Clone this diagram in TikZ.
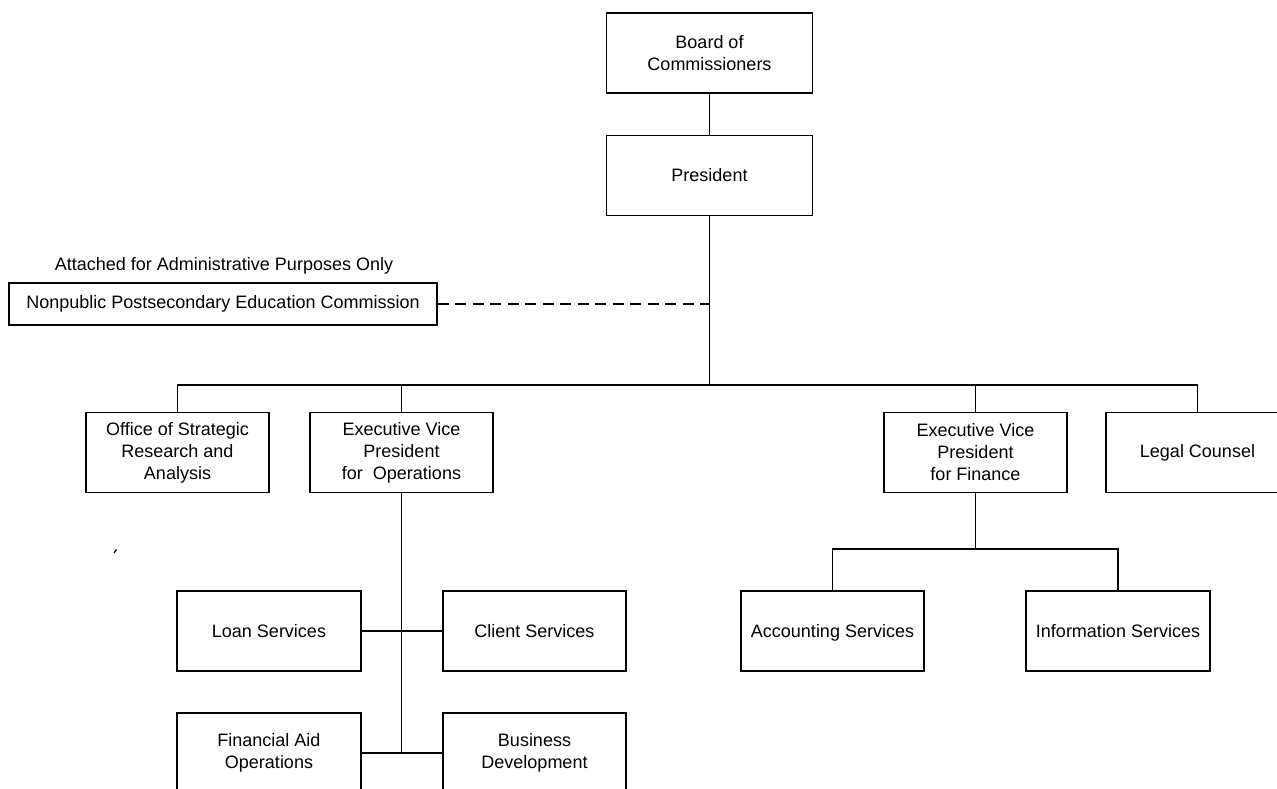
\documentclass[tikz,border=0pt]{standalone}
\usepackage{fontspec}
\setmainfont{Liberation Sans}
\begin{document}
\begin{tikzpicture}[x=1pt,y=-1pt,
  ln/.style={line width=1.5pt,draw=black},
  box/.style={ln,rectangle,inner sep=0pt,align=center,
    font=\fontsize{18}{22}\selectfont,minimum width=183pt,minimum height=80pt},
  wbox/.style={box,minimum width=206pt},
  lbl/.style={inner sep=0pt,font=\fontsize{18}{22}\selectfont},
  dashline/.style={ln,dash pattern=on 11pt off 6.5pt}]
\useasboundingbox (0,0) rectangle (1277,789);
\clip (0,0) rectangle (1277,789);
\fill[white] (0,0) rectangle (1277,789);
% top
\node[wbox] (board) at (709.5,53) {Board of\\Commissioners};
\node[wbox] (pres) at (709.5,175.5) {President};
% npec
\node[box,minimum width=428pt,minimum height=42pt] (npec) at (223,304) {Nonpublic Postsecondary Education Commission};
\node[lbl] (att) at (224,266) {Attached for Administrative Purposes Only};
% second level
\node[box] (osra) at (177.5,452.5) {Office of Strategic\\Research and\\Analysis};
\node[box] (evpo) at (401.5,452.5) {Executive Vice\\President\\for~ Operations};
\node[box] (evpf) at (975.5,452.5) {Executive Vice\\President\\for Finance};
\node[box] (legal) at (1197.5,452.5) {Legal Counsel};
% operations units
\node[box,minimum width=184pt] (loan) at (269,631) {Loan Services};
\node[box] (client) at (534.5,631) {Client Services};
\node[box,minimum width=184pt] (fin) at (269,753) {Financial Aid\\Operations};
\node[box] (biz) at (534.5,753) {Business\\Development};
% finance units
\node[box] (acct) at (832.5,631) {\raisebox{0pt}[13pt][0pt]{Accounting Services}};
\node[box,minimum width=184pt] (info) at (1118,631) {\raisebox{0pt}[13pt][0pt]{Information Services}};
% coordinates
\coordinate (bus) at (709.5,385);
\coordinate (dj) at (709.5,304);
\coordinate (opsend) at (401.5,753);
\coordinate (finbus) at (975.5,549);
% connectors
\draw[ln] (board) -- (pres);
\draw[ln] (pres) -- (bus);
\draw[dashline] (npec.east) -- (dj);
\draw[ln] (osra.north) |- (bus);
\draw[ln] (legal.north) |- (bus);
\draw[ln] (evpo.north) -- ++(0,-27.5);
\draw[ln] (evpf.north) -- ++(0,-27.5);
\draw[ln] (evpo.south) -- (opsend);
\draw[ln] (loan.east) -- (client.west);
\draw[ln] (fin.east) -- (biz.west);
\draw[ln] (evpf.south) -- (finbus);
\draw[ln] (acct.north) |- (finbus);
\draw[ln] (info.north) |- (finbus);
% stray mark
\draw[line width=1.2pt] (114,553) -- (116.5,549.5);
\end{tikzpicture}
\end{document}
